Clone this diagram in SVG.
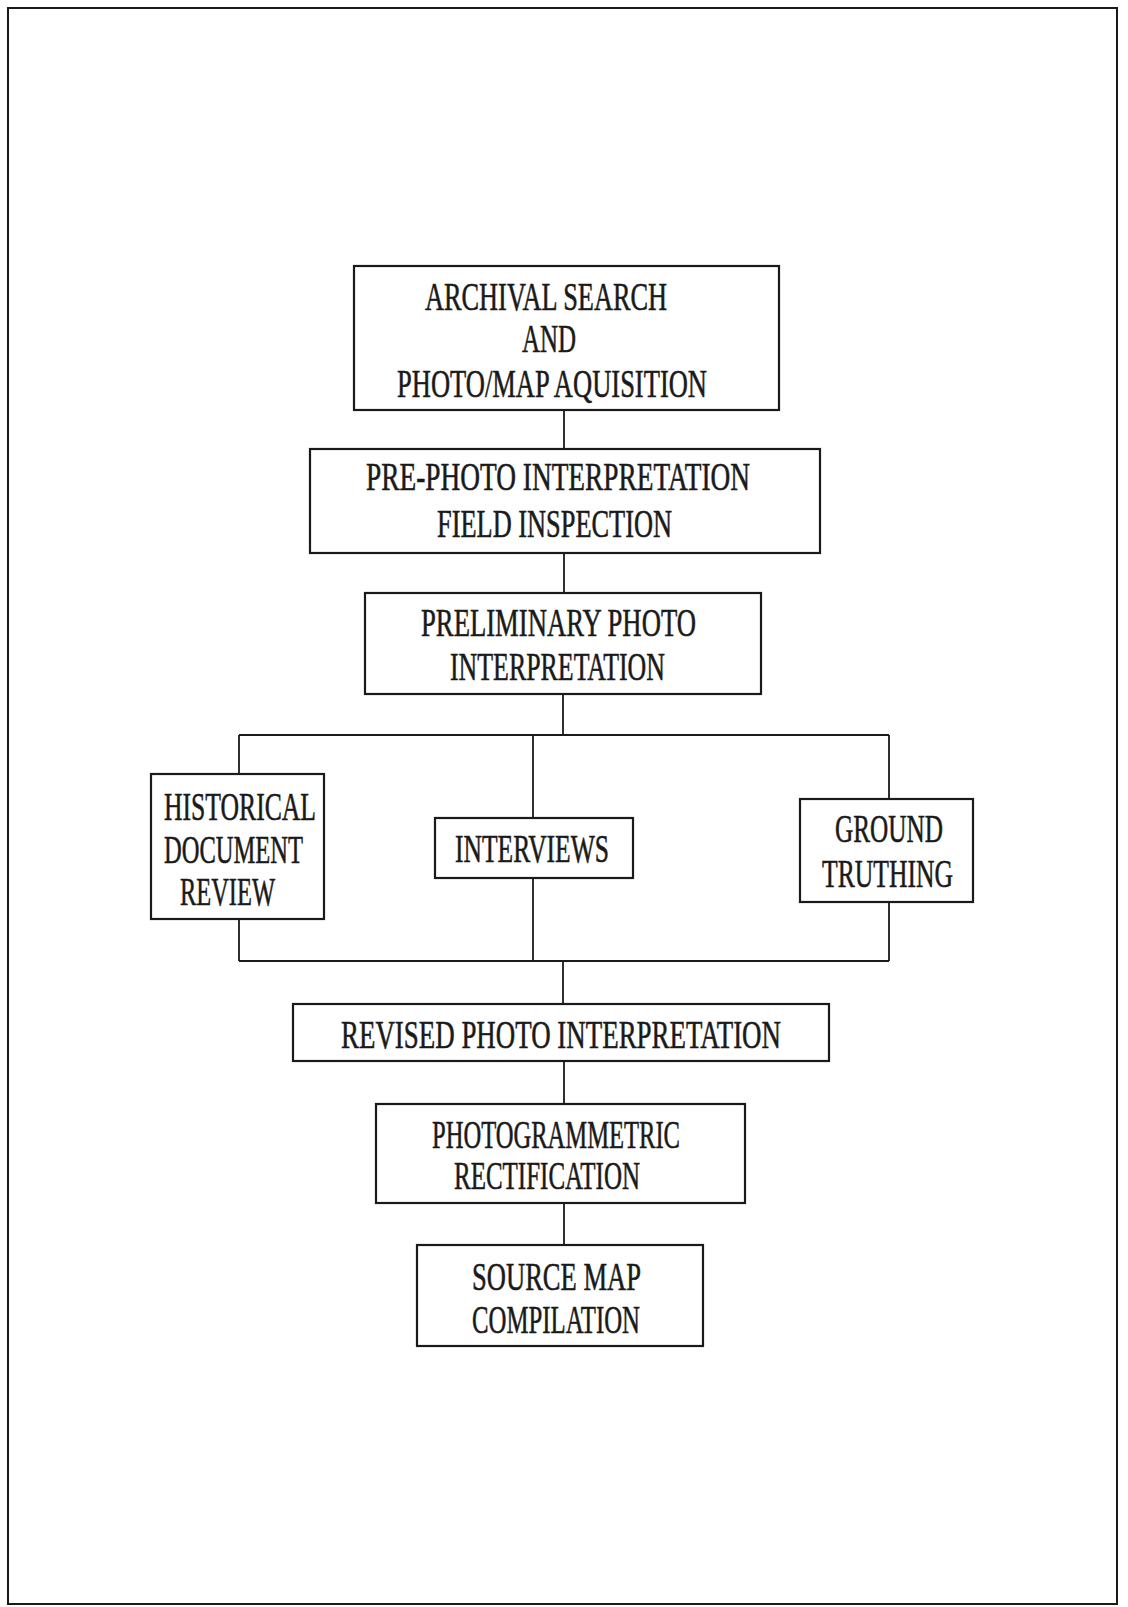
<svg xmlns="http://www.w3.org/2000/svg" width="1128" height="1607" viewBox="0 0 1128 1607">
<style>
.box{fill:#fff;stroke:#1a1a1a;stroke-width:2.2}
.frame{fill:none;stroke:#1a1a1a;stroke-width:2}
.conn{fill:none;stroke:#1a1a1a;stroke-width:1.8}
text{font-family:"Liberation Serif","DejaVu Serif",serif;font-size:41px;fill:#1a1a1a;stroke:#1a1a1a;stroke-width:0.6}
</style>
<rect width="1128" height="1607" fill="#fff"/>
<rect class="frame" x="8" y="8" width="1109" height="1596"/>
<g id="connectors">
<path class="conn" d="M564 410 V449 M564 553 V593 M563 695 V735 M239 735 H889 M239 735 V774 M533 735 V818 M889 735 V799 M239 919 V961 M533 878 V961 M889 902 V961 M239 961 H889 M563 961 V1004 M564 1061 V1104 M564 1203 V1245"/>
</g>
<g id="n1">
<rect class="box" x="354" y="266" width="425" height="144"/>
<text x="425" y="310" textLength="242" lengthAdjust="spacingAndGlyphs">ARCHIVAL SEARCH</text>
<text x="522" y="352" textLength="54" lengthAdjust="spacingAndGlyphs">AND</text>
<text x="397" y="397" textLength="310" lengthAdjust="spacingAndGlyphs">PHOTO/MAP AQUISITION</text>
</g>
<g id="n2">
<rect class="box" x="310" y="449" width="510" height="104"/>
<text x="366" y="490" textLength="384" lengthAdjust="spacingAndGlyphs">PRE-PHOTO INTERPRETATION</text>
<text x="437" y="537" textLength="235" lengthAdjust="spacingAndGlyphs">FIELD INSPECTION</text>
</g>
<g id="n3">
<rect class="box" x="365" y="593" width="396" height="101"/>
<text x="421" y="636" textLength="275" lengthAdjust="spacingAndGlyphs">PRELIMINARY PHOTO</text>
<text x="450" y="680" textLength="215" lengthAdjust="spacingAndGlyphs">INTERPRETATION</text>
</g>
<g id="n4">
<rect class="box" x="151" y="774" width="173" height="145"/>
<text x="164" y="820" textLength="152" lengthAdjust="spacingAndGlyphs">HISTORICAL</text>
<text x="164" y="863" textLength="139" lengthAdjust="spacingAndGlyphs">DOCUMENT</text>
<text x="180" y="905" textLength="95" lengthAdjust="spacingAndGlyphs">REVIEW</text>
</g>
<g id="n5">
<rect class="box" x="435" y="818" width="198" height="60"/>
<text x="455" y="862" textLength="154" lengthAdjust="spacingAndGlyphs">INTERVIEWS</text>
</g>
<g id="n6">
<rect class="box" x="800" y="799" width="173" height="103"/>
<text x="835" y="842" textLength="108" lengthAdjust="spacingAndGlyphs">GROUND</text>
<text x="822" y="887" textLength="131" lengthAdjust="spacingAndGlyphs">TRUTHING</text>
</g>
<g id="n7">
<rect class="box" x="293" y="1004" width="536" height="57"/>
<text x="341" y="1048" textLength="440" lengthAdjust="spacingAndGlyphs">REVISED PHOTO INTERPRETATION</text>
</g>
<g id="n8">
<rect class="box" x="376" y="1104" width="369" height="99"/>
<text x="432" y="1148" textLength="248" lengthAdjust="spacingAndGlyphs">PHOTOGRAMMETRIC</text>
<text x="454" y="1189" textLength="186" lengthAdjust="spacingAndGlyphs">RECTIFICATION</text>
</g>
<g id="n9">
<rect class="box" x="417" y="1245" width="286" height="101"/>
<text x="472" y="1290" textLength="169" lengthAdjust="spacingAndGlyphs">SOURCE MAP</text>
<text x="472" y="1333" textLength="168" lengthAdjust="spacingAndGlyphs">COMPILATION</text>
</g>
</svg>
